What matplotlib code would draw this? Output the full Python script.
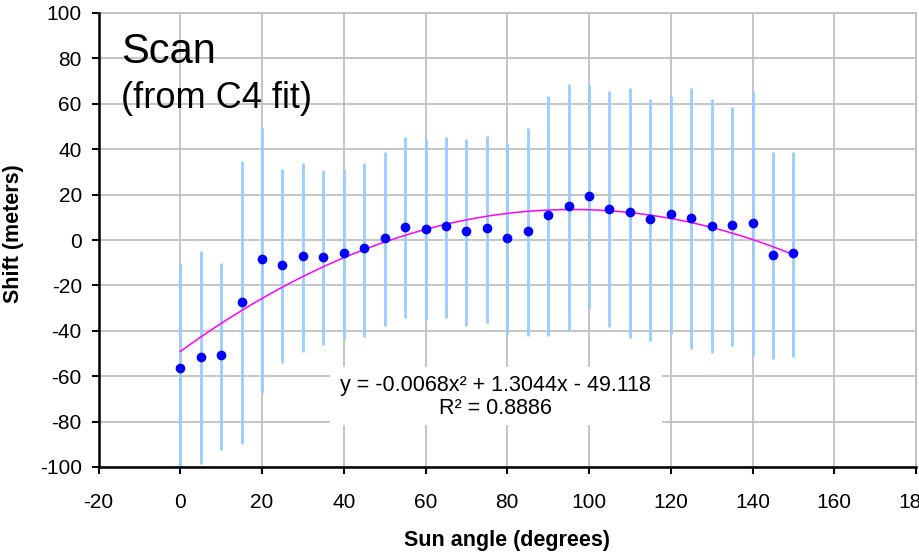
import matplotlib
matplotlib.use("Agg")
import matplotlib.pyplot as plt
from matplotlib.patches import Rectangle
import numpy as np

plt.rcParams['font.family'] = ['Liberation Sans', 'DejaVu Sans']
plt.rcParams['axes.unicode_minus'] = False

# Data
sun_angle = [0, 5, 10, 15, 20, 25, 30, 35, 40, 45, 50, 55, 60, 65, 70, 75,
             80, 85, 90, 95, 100, 105, 110, 115, 120, 125, 130, 135, 140, 145, 150]
shift = [-56.5, -51.7, -50.7, -27.2, -8.5, -11.2, -7.2, -7.5, -5.7, -3.7, 1.0, 5.6,
         5.0, 6.2, 4.0, 5.3, 1.0, 4.0, 11.0, 15.0, 19.2, 13.7, 12.3, 9.3, 11.6, 9.7,
         6.3, 6.6, 7.6, -6.5, -5.9]
err_plus = [46.2, 46.9, 40.4, 62.0, 58.0, 42.5, 41.0, 38.3, 37.0, 37.5, 37.8, 39.9,
            39.5, 39.3, 40.5, 40.5, 41.6, 45.5, 52.4, 53.7, 49.1, 52.1, 54.8, 52.8,
            51.8, 57.4, 55.8, 52.1, 58.2, 45.4, 44.8]
err_minus = [46.5, 47.1, 41.8, 62.7, 58.8, 43.1, 42.0, 38.8, 37.9, 38.9, 38.7, 39.8,
             40.2, 40.4, 41.7, 41.7, 42.5, 46.1, 53.1, 54.6, 49.6, 51.9, 55.6, 53.7,
             53.1, 57.9, 56.2, 53.2, 58.6, 45.9, 45.5]
fit_coeffs = [-0.0068, 1.3044, -49.118]
fit_label = "y = -0.0068x² + 1.3044x - 49.118\nR² = 0.8886"
x_ticks = [-20, 0, 20, 40, 60, 80, 100, 120, 140, 160, 180]
y_ticks = [-100, -80, -60, -40, -20, 0, 20, 40, 60, 80, 100]

W, H = 919, 554
fig = plt.figure(figsize=(W / 100, H / 100), dpi=100)
ax = fig.add_axes([98.5 / W, (H - 467) / H, (916 - 98.5) / W, (467 - 13) / H])

ax.set_xlim(-20, 180)
ax.set_ylim(-100, 100)
ax.set_xticks(x_ticks)
ax.set_yticks(y_ticks)
ax.grid(True, color='#c0c0c0', linewidth=1.3, zorder=0)
ax.set_axisbelow(True)

for s in ['top', 'right']:
    ax.spines[s].set_color('#c0c0c0')
    ax.spines[s].set_linewidth(1.3)
for s in ['left', 'bottom']:
    ax.spines[s].set_color('black')
    ax.spines[s].set_linewidth(1.8)
    ax.spines[s].set_zorder(5)

ax.tick_params(axis='both', direction='out', length=5, width=1.5, labelsize=15,
               colors='black')
ax.tick_params(axis='y', pad=7)
ax.tick_params(axis='x', pad=14)

# error bars
ax.errorbar(sun_angle, shift, yerr=[err_minus, err_plus], fmt='none',
            ecolor='#99ccff', elinewidth=2, capsize=0, zorder=2)

# trendline
xf = np.linspace(sun_angle[0], sun_angle[-1], 200)
ax.plot(xf, np.polyval(fit_coeffs, xf), color='#ff00ff', linewidth=1.1, zorder=3)

# points
ax.plot(sun_angle, shift, 'o', color='#0000ff', markersize=7, markeredgewidth=0, zorder=4)

# trendline label with white background
fig.patches.append(Rectangle((330 / W, (H - 425) / H), (662 - 330) / W, (425 - 367) / H,
                             transform=fig.transFigure, facecolor='white',
                             edgecolor='none', zorder=6))
fig.text(495 / W, (H - 397) / H, fit_label, ha='center', va='center',
         multialignment='center', fontsize=15.5, linespacing=1.15, zorder=7)

fig.text(121 / W, (H - 63) / H, "Scan", ha='left', va='baseline', fontsize=30)
fig.text(121 / W, (H - 108) / H, "(from C4 fit)", ha='left', va='baseline', fontsize=26)

ax.set_xlabel("Sun angle (degrees)", fontsize=15.5, fontweight='bold', labelpad=13)
ax.set_ylabel("Shift (meters)", fontsize=15.5, fontweight='bold')
ax.yaxis.set_label_coords((24 - 98.5) / (916 - 98.5), (H - 233.5 - (H - 467)) / (467 - 13))

fig.savefig("out.png", dpi=100)
